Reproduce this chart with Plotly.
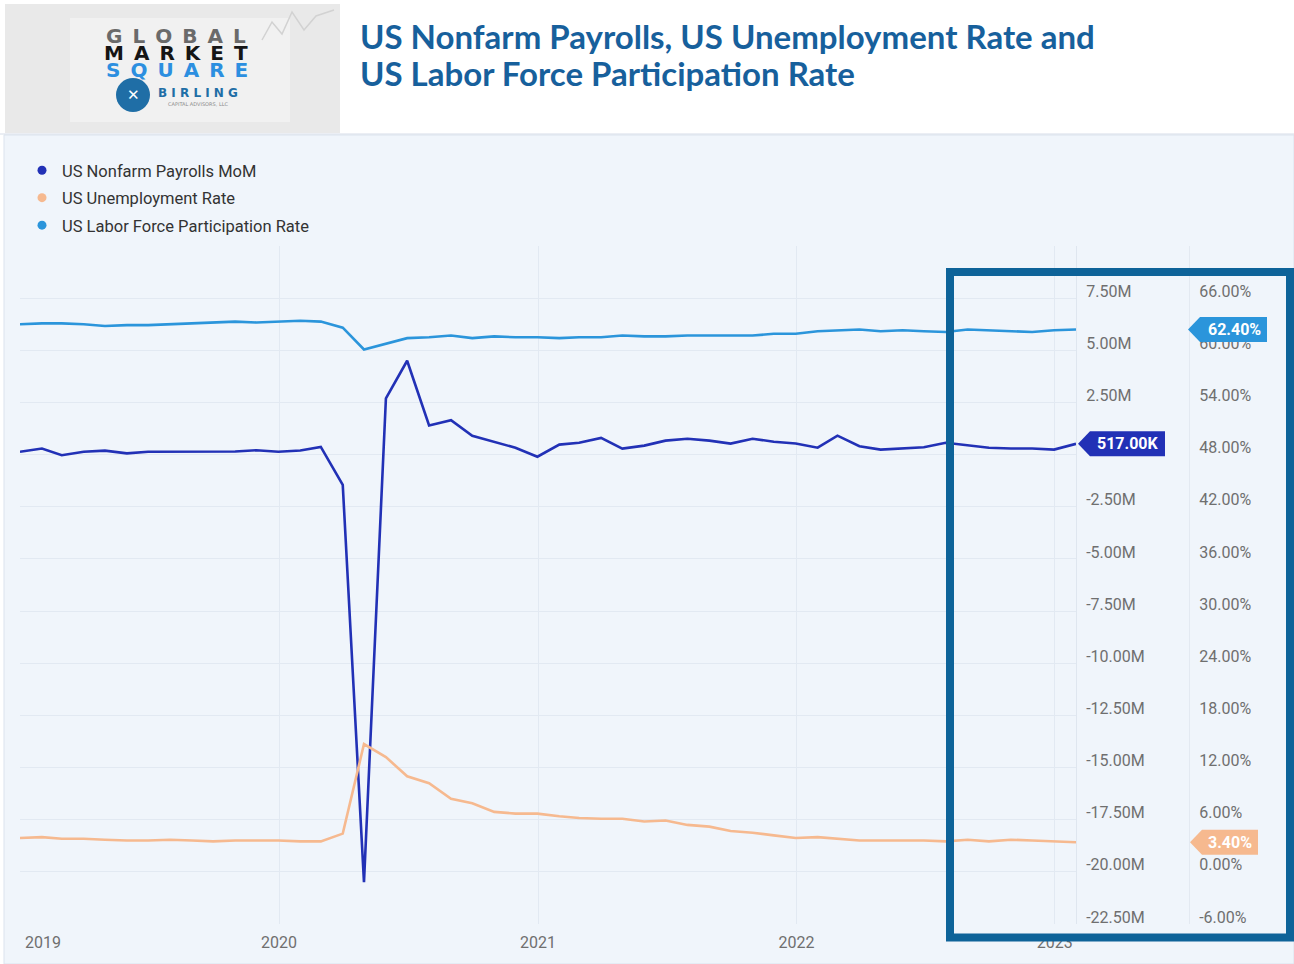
import plotly.graph_objects as go
import pandas as pd

# ---------------- data (month-end observations, Dec 2018 .. Jan 2023) ----------------
months = pd.date_range("2018-12-01", periods=50, freq="MS") + pd.offsets.MonthEnd(0)

nonfarm_mom_m = [
    0.14,
    0.29, -0.03, 0.14, 0.19, 0.06, 0.14, 0.15, 0.15, 0.16, 0.15, 0.21, 0.14,
    0.20, 0.37, -1.45, -20.50, 2.70, 4.50, 1.40, 1.65, 0.90, 0.62, 0.33, -0.10,
    0.48, 0.57, 0.80, 0.29, 0.43, 0.67, 0.76, 0.67, 0.53, 0.76, 0.62, 0.53,
    0.33, 0.91, 0.40, 0.24, 0.30, 0.35, 0.57, 0.44, 0.33, 0.29, 0.29, 0.24,
    0.517,
]
unemployment_rate = [
    3.9,
    4.0, 3.8, 3.8, 3.7, 3.6, 3.6, 3.7, 3.6, 3.5, 3.6, 3.6, 3.6,
    3.5, 3.5, 4.4, 14.7, 13.2, 11.0, 10.2, 8.4, 7.9, 6.9, 6.7, 6.7,
    6.4, 6.2, 6.1, 6.1, 5.8, 5.9, 5.4, 5.2, 4.7, 4.5, 4.2, 3.9,
    4.0, 3.8, 3.6, 3.6, 3.6, 3.6, 3.5, 3.7, 3.5, 3.7, 3.6, 3.5,
    3.4,
]
participation_rate = [
    63.0,
    63.1, 63.1, 63.0, 62.8, 62.9, 62.9, 63.0, 63.1, 63.2, 63.3, 63.2, 63.3,
    63.4, 63.3, 62.6, 60.1, 60.8, 61.4, 61.5, 61.7, 61.4, 61.6, 61.5, 61.5,
    61.4, 61.5, 61.5, 61.7, 61.6, 61.6, 61.7, 61.7, 61.7, 61.7, 61.9, 61.9,
    62.2, 62.3, 62.4, 62.2, 62.3, 62.2, 62.1, 62.4, 62.3, 62.2, 62.1, 62.3,
    62.4,
]

series_names = ["US Nonfarm Payrolls MoM", "US Unemployment Rate",
                "US Labor Force Participation Rate"]

x_tickvals = ["2019-01-01", "2020-01-01", "2021-01-01", "2022-01-01", "2023-01-01"]
x_ticktext = ["2019", "2020", "2021", "2022", "2023"]

left_tickvals = [-22.5, -20.0, -17.5, -15.0, -12.5, -10.0, -7.5, -5.0, -2.5, 0.0, 2.5, 5.0, 7.5]
left_ticktext = ["-22.50M", "-20.00M", "-17.50M", "-15.00M", "-12.50M", "-10.00M", "-7.50M",
                 "-5.00M", "-2.50M", "", "2.50M", "5.00M", "7.50M"]
right_tickvals = [-6, 0, 6, 12, 18, 24, 30, 36, 42, 48, 54, 60, 66]
right_ticktext = ["-6.00%", "0.00%", "6.00%", "12.00%", "18.00%", "24.00%", "30.00%",
                  "36.00%", "42.00%", "48.00%", "54.00%", "60.00%", "66.00%"]

# ---------------- styling ----------------
NAVY = "#2231b6"
PEACH = "#f6b98f"
SKY = "#2b95db"
GRID = "#e2e9f2"
PANEL = "#f0f5fb"
TICK = "#6f6f6f"
TITLE = "#17609c"
BOX = "#0e6399"

W, H = 1294, 964
ML, MR, MT, MB = 20, 0, 246, 40
PW, PH = W - ML - MR, H - MT - MB


def px(x):
    return (x - ML) / PW


def py(y):
    return (H - MB - y) / PH


fig = go.Figure()

fig.add_trace(go.Scatter(x=months, y=nonfarm_mom_m, yaxis="y", mode="lines",
                         line=dict(color=NAVY, width=2.6), showlegend=False,
                         name=series_names[0], hoverinfo="skip"))
fig.add_trace(go.Scatter(x=months, y=unemployment_rate, yaxis="y2", mode="lines",
                         line=dict(color=PEACH, width=2.6), showlegend=False,
                         name=series_names[1], hoverinfo="skip"))
fig.add_trace(go.Scatter(x=months, y=participation_rate, yaxis="y2", mode="lines",
                         line=dict(color=SKY, width=2.6), showlegend=False,
                         name=series_names[2], hoverinfo="skip"))

# legend entries (dots)
for i, (nm, col) in enumerate(zip(series_names, [NAVY, PEACH, SKY])):
    fig.add_trace(go.Scatter(x=[None], y=[None], mode="markers", name=nm,
                             legendgroup=f"g{i}", marker=dict(color=col, size=9),
                             showlegend=True))

shapes = []
# chart panel background
shapes.append(dict(type="rect", xref="paper", yref="paper", layer="below",
                   x0=px(4), x1=px(1294), y0=py(964), y1=py(135),
                   fillcolor=PANEL, line=dict(color="#dbe3ee", width=1)))
# header separator
shapes.append(dict(type="line", xref="paper", yref="paper", layer="below",
                   x0=px(0), x1=px(1294), y0=py(134), y1=py(134),
                   line=dict(color="#d6dde8", width=1)))
# logo backdrop
shapes.append(dict(type="rect", xref="paper", yref="paper", layer="below",
                   x0=px(5), x1=px(340), y0=py(133), y1=py(4),
                   fillcolor="#e9e9e9", line=dict(width=0)))
shapes.append(dict(type="rect", xref="paper", yref="paper", layer="below",
                   x0=px(70), x1=px(290), y0=py(122), y1=py(18),
                   fillcolor="#f1f1f1", line=dict(width=0)))
shapes.append(dict(type="path", xref="paper", yref="paper", layer="below",
                   path=" ".join([
                       f"M{px(262)},{py(40)}", f"L{px(272)},{py(22)}", f"L{px(282)},{py(34)}",
                       f"L{px(292)},{py(12)}", f"L{px(304)},{py(30)}", f"L{px(316)},{py(16)}",
                       f"L{px(334)},{py(10)}"]),
                   line=dict(color="#d2d2d2", width=1.5)))
# logo circle
shapes.append(dict(type="circle", xref="paper", yref="paper",
                   x0=px(116), x1=px(150), y0=py(112), y1=py(78),
                   fillcolor="#1f6ea6", line=dict(width=0)))

# highlight box
shapes.append(dict(type="rect", xref="paper", yref="paper", layer="above",
                   x0=px(950), x1=px(1290), y0=py(937.5), y1=py(272),
                   line=dict(color=BOX, width=8), fillcolor="rgba(0,0,0,0)"))


def badge(tip_x, yref, yval, width, color):
    path = f"M0,0 L12,12.5 L{12 + width},12.5 L{12 + width},-12.5 L12,-12.5 Z"
    return dict(type="path", xref="paper", yref=yref, xsizemode="pixel",
                ysizemode="pixel", xanchor=px(tip_x), yanchor=yval, path=path,
                fillcolor=color, line=dict(width=0), layer="above")


last_nf = nonfarm_mom_m[-1]
last_ur = unemployment_rate[-1]
last_lf = participation_rate[-1]

shapes.append(badge(1078, "y", last_nf, 75, NAVY))
shapes.append(badge(1188, "y2", last_lf, 67, SKY))
shapes.append(badge(1190, "y2", last_ur, 56, PEACH))

annotations = []
badge_font = dict(family="Roboto", size=16, color="white")
annotations.append(dict(xref="paper", yref="y", x=px(1128), y=last_nf,
                        text=f"<b>{last_nf * 1000:.2f}K</b>", showarrow=False,
                        font=badge_font, xanchor="center", yanchor="middle"))
annotations.append(dict(xref="paper", yref="y2", x=px(1234), y=last_lf,
                        text=f"<b>{last_lf:.2f}%</b>", showarrow=False,
                        font=badge_font, xanchor="center", yanchor="middle"))
annotations.append(dict(xref="paper", yref="y2", x=px(1230), y=last_ur,
                        text=f"<b>{last_ur:.2f}%</b>", showarrow=False,
                        font=badge_font, xanchor="center", yanchor="middle"))

# first year label sits left-aligned at the plot edge (like the reference)
annotations.append(dict(xref="x", yref="paper", x=x_tickvals[0], y=py(942),
                        text=x_ticktext[0], showarrow=False, xanchor="left",
                        yanchor="middle", xshift=2,
                        font=dict(family="Roboto", size=16, color=TICK)))

# title
for txt, yy in [("US Nonfarm Payrolls, US Unemployment Rate and", 36),
                ("US Labor Force Participation Rate", 73)]:
    annotations.append(dict(xref="paper", yref="paper", x=px(358), y=py(yy),
                            text=f"<b>{txt}</b>", showarrow=False,
                            xanchor="left", yanchor="middle",
                            font=dict(family="Lato", size=33, color=TITLE)))

# logo text
logo_font = "DejaVu Sans"
SEP = "\u2002"


def logo_text(txt, x, y, size, color, bold=True):
    return dict(xref="paper", yref="paper", x=px(x), y=py(y),
                text=f"<b>{txt}</b>" if bold else txt, showarrow=False,
                xanchor="center", yanchor="middle",
                font=dict(family=logo_font, size=size, color=color))


annotations.append(logo_text(SEP.join("GLOBAL"), 176, 36, 20, "#6a6a6a"))
annotations.append(logo_text(SEP.join("MARKET"), 176, 53, 20, "#151515"))
annotations.append(logo_text(SEP.join("SQUARE"), 177, 70, 20, "#2c8fe0"))
annotations.append(logo_text("✕", 133, 95, 15, "white"))
annotations.append(logo_text("\u00a0".join("BIRLING"), 198, 93, 12, "#1f6ea6"))
annotations.append(logo_text("CAPITAL ADVISORS, LLC", 198, 104, 5, "#8a8a8a", bold=False))

fig.update_layout(
    width=W, height=H, autosize=False,
    margin=dict(l=ML, r=MR, t=MT, b=MB, pad=0, autoexpand=False),
    paper_bgcolor="white", plot_bgcolor="rgba(0,0,0,0)",
    font=dict(family="Roboto", color=TICK),
    showlegend=True,
    legend=dict(x=px(22), y=py(153), xanchor="left", yanchor="top",
                bgcolor="rgba(0,0,0,0)", traceorder="grouped", tracegroupgap=3,
                font=dict(family="Roboto", size=16.5, color="#333333"),
                itemclick=False, itemdoubleclick=False),
    xaxis=dict(type="date", domain=[0, px(1076)], automargin=False,
               range=[months[0], months[-1]],
               tickvals=x_tickvals[1:], ticktext=x_ticktext[1:],
               showgrid=True, gridcolor=GRID, gridwidth=1,
               zeroline=False, showline=False, ticks="",
               ticklabelstandoff=7,
               tickfont=dict(family="Roboto", size=16, color=TICK)),
    yaxis=dict(side="right", anchor="x", range=[-22.5, 10], automargin=False,
               tickvals=left_tickvals, ticktext=left_ticktext,
               showgrid=True, gridcolor=GRID, gridwidth=1,
               zeroline=False, showline=True, linecolor="#dfe6ef", ticks="",
               ticklabelshift=-7, ticklabelstandoff=6,
               tickfont=dict(family="Roboto", size=16, color=TICK)),
    yaxis2=dict(side="right", overlaying="y", anchor="free", position=px(1189),
                automargin=False,
                range=[-6, 72], tickvals=right_tickvals, ticktext=right_ticktext,
                showgrid=False, zeroline=False, showline=True, linecolor="#e3e9f1",
                ticks="", ticklabelshift=-7, ticklabelstandoff=6,
                tickfont=dict(family="Roboto", size=16, color=TICK)),
    shapes=shapes,
    annotations=annotations,
)

fig.write_html("out.html")
